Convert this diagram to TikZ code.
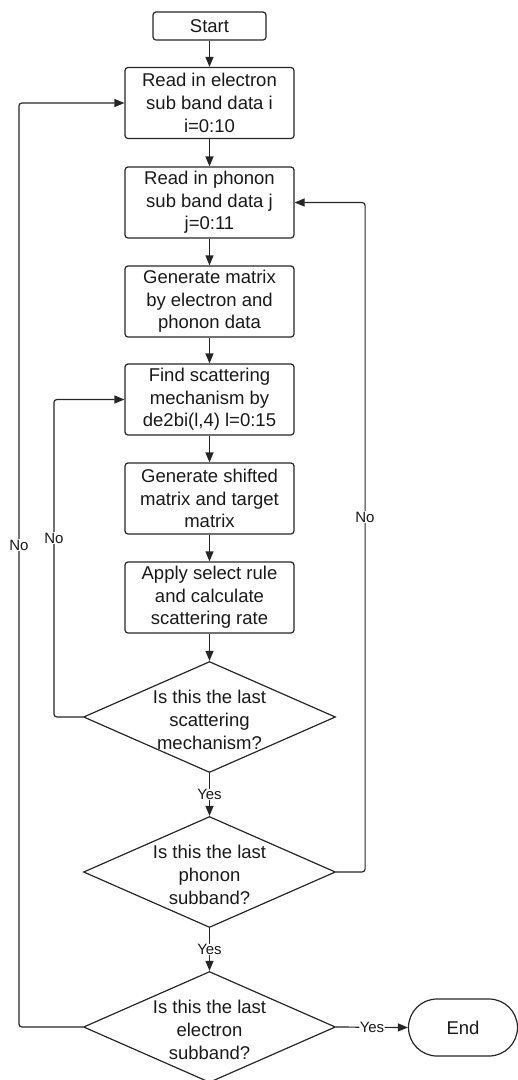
\documentclass[tikz,border=0pt]{standalone}
\usepackage{fontspec}
\setmainfont{Liberation Sans}
\usetikzlibrary{arrows.meta,shapes.geometric,shapes.misc}
\begin{document}
\begin{tikzpicture}[x=1pt,y=-1pt,
  box/.style={draw=black!85, line width=1.2pt, rounded corners=3pt, minimum width=169pt, minimum height=71pt,
    align=center, inner sep=0pt, text=black!90, font=\fontsize{18.5}{22.7}\selectfont},
  dec/.style={draw=black!85, line width=1.2pt, diamond, minimum width=252pt, minimum height=111pt, inner sep=0pt},
  dtxt/.style={align=center, inner sep=0pt, text=black!90, font=\fontsize{18.5}{22.7}\selectfont},
  term/.style={draw=black!85, line width=1.2pt, rounded rectangle, minimum width=109pt, minimum height=57pt,
    inner sep=0pt, text=black!90, font=\fontsize{18.5}{22.7}\selectfont},
  arr/.style={draw=black!85, -{Triangle[length=10pt,width=8pt]}, line width=1.2pt, rounded corners=3pt},
  lbl/.style={fill=white, inner sep=0.5pt, text=black!90, font=\fontsize{15}{18}\selectfont}
]
\useasboundingbox (0,0) rectangle (518,1080);

\node[box, minimum width=113pt, minimum height=28pt] (start) at (209.5,26) {Start};
\node[box] (b1) at (209.5,103) {Read in electron\\sub band data i\\i=0:10};
\node[box] (b2) at (209.5,202.5) {Read in phonon\\sub band data j\\j=0:11};
\node[box] (b3) at (209.5,301.5) {Generate matrix\\by electron and\\phonon data};
\node[box] (b4) at (209.5,399.5) {Find scattering\\mechanism by\\de2bi(l,4) l=0:15};
\node[box] (b5) at (209.5,498.5) {Generate shifted\\matrix and target\\matrix};
\node[box] (b6) at (209.5,597.5) {Apply select rule\\and calculate\\scattering rate};

\node[dec] (d1) at (209.5,717) {};
\node[dtxt] (t1) at (209.5,720) {Is this the last\\scattering\\mechanism?};
\node[dec] (d2) at (209.5,872) {};
\node[dtxt] (t2) at (209.5,875) {Is this the last\\phonon\\subband?};
\node[dec] (d3) at (209.5,1027) {};
\node[dtxt] (t3) at (209.5,1030) {Is this the last\\electron\\subband?};

\node[term] (end) at (463,1027.5) {End};

\draw[arr] (start.south) -- (b1.north);
\draw[arr] (b1.south) -- (b2.north);
\draw[arr] (b2.south) -- (b3.north);
\draw[arr] (b3.south) -- (b4.north);
\draw[arr] (b4.south) -- (b5.north);
\draw[arr] (b5.south) -- (b6.north);
\draw[arr] (b6.south) -- (d1.north);
\draw[arr] (d1.south) -- node[lbl] (y1) {Yes} (d2.north);
\draw[arr] (d2.south) -- node[lbl] (y2) {Yes} (d3.north);
\draw[arr] (d3.east) -- node[lbl] (y3) {Yes} (end.west);

\draw[arr] (d1.west) -- ++(-29,0) |- (b4.west);
\draw[arr] (d2.east) -- ++(29,0) |- (b2.east);
\draw[arr] (d3.west) -- ++(-64,0) |- (b1.west);

\node[lbl] (n1) at (54,538) {No};
\node[lbl] (n2) at (365,517) {No};
\node[lbl] (n3) at (19,545) {No};
\end{tikzpicture}
\end{document}
